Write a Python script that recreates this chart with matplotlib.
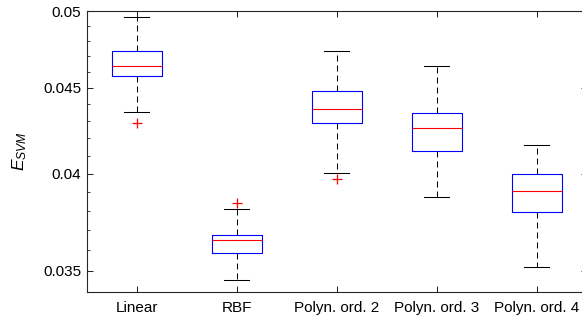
#!/usr/bin/env python3
"""Boxplot of SVM error for different kernels (log y axis, MATLAB look)."""
import matplotlib
matplotlib.use("Agg")
import matplotlib.pyplot as plt
from matplotlib.ticker import FixedLocator, NullFormatter

# ---- data ----
kernels = ["Linear", "RBF", "Polyn. ord. 2", "Polyn. ord. 3", "Polyn. ord. 4"]
whisker_low = [0.04352, 0.03457, 0.04001, 0.03872, 0.03519]
q1 = [0.04574, 0.03585, 0.04288, 0.04128, 0.03794]
median = [0.04640, 0.03651, 0.04370, 0.04257, 0.03904]
q3 = [0.04734, 0.03678, 0.04481, 0.04349, 0.04000]
whisker_high = [0.04961, 0.03808, 0.04734, 0.04640, 0.04159]
outliers = [[0.04286], [0.03842], [0.03969], [], []]

y_major = [0.035, 0.04, 0.045, 0.05]
y_major_labels = ["0.035", "0.04", "0.045", "0.05"]
y_minor = [0.036, 0.037, 0.038, 0.039, 0.041, 0.042, 0.043, 0.044,
           0.046, 0.047, 0.048, 0.049]

plt.rcParams["font.family"] = ["Liberation Sans", "DejaVu Sans"]
plt.rcParams["mathtext.fontset"] = "custom"
plt.rcParams["mathtext.it"] = "Liberation Sans:italic"
plt.rcParams["mathtext.rm"] = "Liberation Sans"
plt.rcParams["lines.scale_dashes"] = False

axis_col = "#262626"

fig = plt.figure(figsize=(5.82, 3.2), dpi=100)
# right edge of the axes is cut off in the reference
ax = fig.add_axes([86.7 / 582, 1 - 291.7 / 320, 500 / 582, 280.4 / 320])

stats = []
for i, name in enumerate(kernels):
    stats.append({
        "label": name,
        "whislo": whisker_low[i],
        "q1": q1[i],
        "med": median[i],
        "q3": q3[i],
        "whishi": whisker_high[i],
        "fliers": outliers[i],
    })

ax.bxp(
    stats,
    positions=range(1, len(kernels) + 1),
    widths=0.5,
    capwidths=0.25,
    showfliers=True,
    boxprops=dict(color="#0000ff", linewidth=0.8),
    medianprops=dict(color="#ff0000", linewidth=0.8),
    whiskerprops=dict(color="black", linewidth=0.75, linestyle=(0, (4.3, 2.9))),
    capprops=dict(color="black", linewidth=0.75),
    flierprops=dict(marker="+", color="#ff0000", markeredgecolor="#ff0000",
                    markerfacecolor="#ff0000", markersize=7,
                    markeredgewidth=0.9, linestyle="none"),
)

ax.set_yscale("log")
ax.set_xlim(0.5, 5.5)
ax.set_ylim(0.034, 0.05)
ax.yaxis.set_major_locator(FixedLocator(y_major))
ax.set_yticklabels(y_major_labels)
ax.yaxis.set_minor_locator(FixedLocator(y_minor))
ax.yaxis.set_minor_formatter(NullFormatter())
ax.set_xticks(range(1, len(kernels) + 1))
ax.set_xticklabels(kernels)

ax.tick_params(axis="both", which="major", direction="in", length=4,
               width=0.75, colors=axis_col, labelcolor="black", labelsize=11,
               top=True, right=True)
ax.tick_params(axis="y", which="minor", direction="in", length=2,
               width=0.6, colors=axis_col, right=True)
ax.tick_params(axis="x", which="major", pad=7)
ax.tick_params(axis="y", which="major", pad=4)

for s in ax.spines.values():
    s.set_color(axis_col)
    s.set_linewidth(0.8)

ax.set_ylabel(r"$E_{SVM}$", fontsize=12.5)
ax.yaxis.set_label_coords(-0.115, 0.5)

fig.savefig("out.png", dpi=100)
